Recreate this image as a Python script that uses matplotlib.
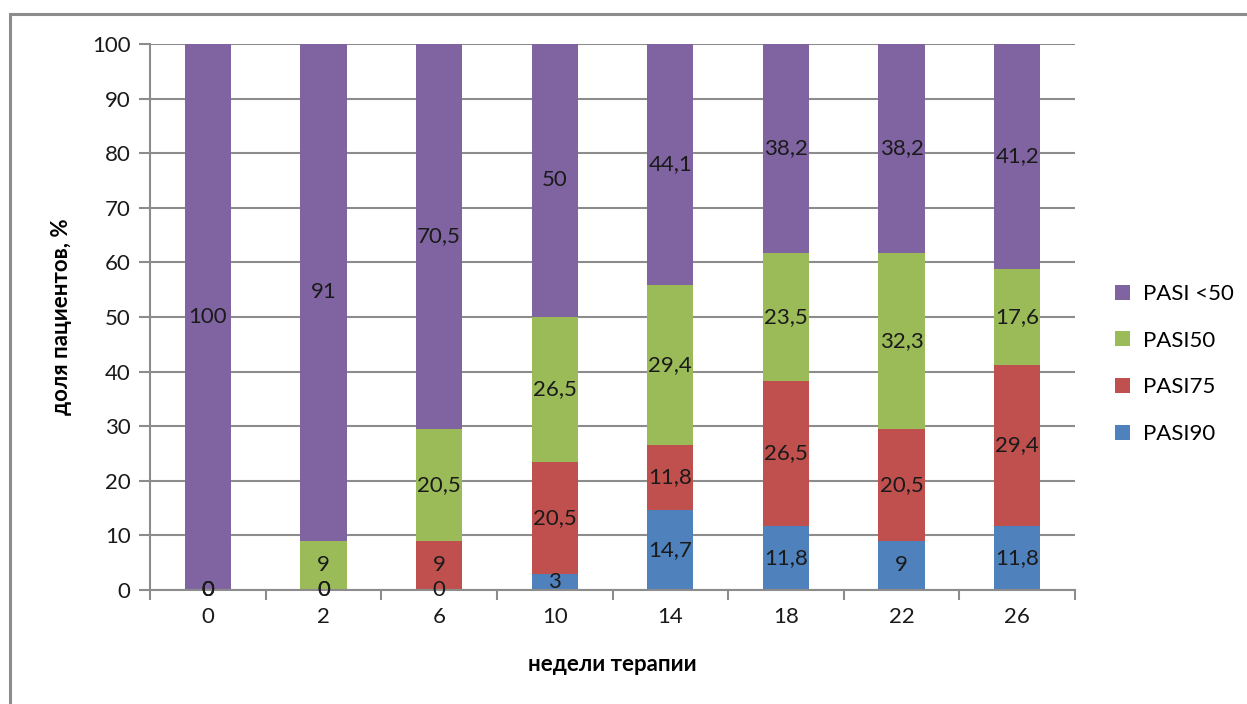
import matplotlib.pyplot as plt
import numpy as np
from matplotlib.patches import Rectangle

plt.rcParams['font.family'] = ['Lato', 'DejaVu Sans']

weeks = ['0', '2', '6', '10', '14', '18', '22', '26']
pasi90 = [0, 0, 0, 3, 14.7, 11.8, 9, 11.8]
pasi75 = [0, 0, 9, 20.5, 11.8, 26.5, 20.5, 29.4]
pasi50 = [0, 9, 20.5, 26.5, 29.4, 23.5, 32.3, 17.6]
pasi_lt50 = [100, 91, 70.5, 50, 44.1, 38.2, 38.2, 41.2]

series = [
    ('PASI90', pasi90, '#4F81BD'),
    ('PASI75', pasi75, '#C0504D'),
    ('PASI50', pasi50, '#9BBB59'),
    ('PASI <50', pasi_lt50, '#8064A2'),
]

def fmt(v):
    return f"{v:g}".replace('.', ',')

fs = 16

fig = plt.figure(figsize=(12.47, 7.04), dpi=100)
# outer chart frame, open at right and bottom edges of the image
fig.patches.append(Rectangle((10 / 1247, -0.1), 1.2, 1.1 - 14 / 704, transform=fig.transFigure,
                             fill=False, edgecolor='#8c8c8c', linewidth=2.2, zorder=0))

ax = fig.add_axes([150 / 1247, 1 - 590 / 704, 925 / 1247, 546 / 704])
x = np.arange(len(weeks))
bottom = np.zeros(len(weeks))
handles = []
for name, vals, col in series:
    vals = np.array(vals, dtype=float)
    b = ax.bar(x, vals, width=0.4, bottom=bottom, color=col, label=name, zorder=2)
    handles.append(b)
    for xi, bo, v in zip(x, bottom, vals):
        ax.text(xi, bo + v / 2, fmt(v), ha='center', va='center', fontsize=fs,
                color='#1a1a1a', zorder=3)
    bottom += vals

ax.set_xlim(-0.5, len(weeks) - 0.5)
ax.set_ylim(0, 100)
ax.set_yticks(range(0, 101, 10))
ax.set_xticks(x)
ax.set_xticklabels(weeks)
ax.set_xticks(np.arange(-0.5, len(weeks)), minor=True)
ax.tick_params(axis='x', which='major', length=0, labelsize=fs, pad=12, colors='#1a1a1a')
ax.tick_params(axis='x', which='minor', length=7, width=1.5, color='#8c8c8c')
ax.tick_params(axis='y', length=8, width=1.5, color='#8c8c8c', labelsize=fs, pad=6,
               labelcolor='#1a1a1a')
ax.yaxis.grid(True, color='#8c8c8c', linewidth=1.5, zorder=0)
ax.set_axisbelow(True)
for s in ['top', 'right']:
    ax.spines[s].set_visible(False)
for s in ['left', 'bottom']:
    ax.spines[s].set_color('#8c8c8c')
    ax.spines[s].set_linewidth(1.5)

ax.set_xlabel('недели терапии', fontsize=fs, fontweight='bold', labelpad=20)
ax.set_ylabel('доля пациентов, %', fontsize=fs, fontweight='bold', labelpad=14)

leg = ax.legend(handles=handles[::-1], loc='center left', bbox_to_anchor=(1.022, 0.414),
                frameon=False, fontsize=fs, handlelength=0.65, handleheight=0.65,
                labelspacing=1.2, handletextpad=0.6)

fig.savefig('out.png', dpi=100)
